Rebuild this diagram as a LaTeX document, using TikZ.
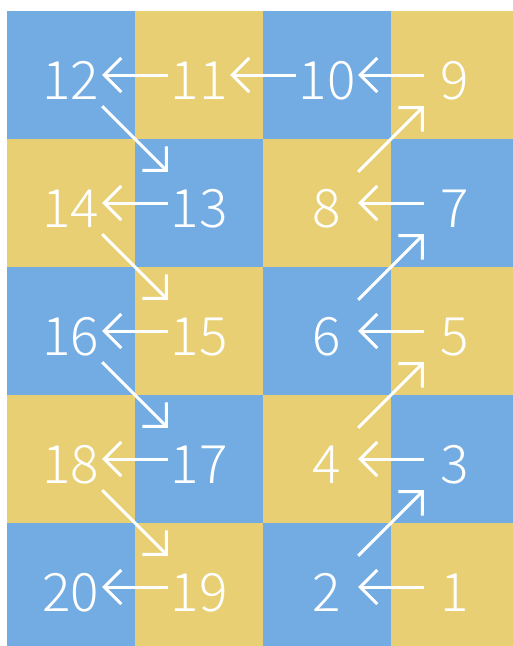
\documentclass[tikz,border=0pt]{standalone}
\usepackage{fontspec}
\setmainfont{Noto Sans CJK SC}[UprightFont={* Light}]
\usetikzlibrary{arrows.meta}
\definecolor{cellblue}{RGB}{114,172,226}
\definecolor{cellyellow}{RGB}{232,207,115}
\tikzstyle{num} = [rectangle, minimum width=62pt, minimum height=62pt, inner sep=0pt, text=white, font=\fontsize{53}{60}\selectfont, text height=48pt, text depth=0pt]
\tikzstyle{arrow} = [white, line width=3pt, -{Straight Barb[length=17pt,width=34pt]}]

\begin{document}
\begin{tikzpicture}[x=1pt, y=-1pt, node distance=128pt]

\useasboundingbox (0,0) rectangle (513,646);
\clip (0,0) rectangle (513,646);

% checkerboard
\foreach \i in {0,...,3}
  \foreach \j in {0,...,4} {
    \pgfmathparse{int(mod(\i+\j,2))}
    \ifnum\pgfmathresult=0
      \fill[cellblue] (7+128*\i,11+128*\j) rectangle ++(128,128);
    \else
      \fill[cellyellow] (7+128*\i,11+128*\j) rectangle ++(128,128);
    \fi
  }

% numbers
\node (n1) [num] at (455,587) {1};
\node (n2) [num, left of=n1] {2};
\node (n3) [num, above of=n1] {3};
\node (n4) [num, left of=n3] {4};
\node (n5) [num, above of=n3] {5};
\node (n6) [num, left of=n5] {6};
\node (n7) [num, above of=n5] {7};
\node (n8) [num, left of=n7] {8};
\node (n9) [num, above of=n7] {9};
\node (n10) [num, left of=n9] {10};
\node (n11) [num, left of=n10] {11};
\node (n12) [num, left of=n11] {12};
\node (n13) [num, below of=n11] {13};
\node (n14) [num, left of=n13] {14};
\node (n15) [num, below of=n13] {15};
\node (n16) [num, left of=n15] {16};
\node (n17) [num, below of=n15] {17};
\node (n18) [num, left of=n17] {18};
\node (n19) [num, below of=n17] {19};
\node (n20) [num, left of=n19] {20};

% path
\draw [arrow] (n1) -- (n2);
\draw [arrow] (n2) -- (n3);
\draw [arrow] (n3) -- (n4);
\draw [arrow] (n4) -- (n5);
\draw [arrow] (n5) -- (n6);
\draw [arrow] (n6) -- (n7);
\draw [arrow] (n7) -- (n8);
\draw [arrow] (n8) -- (n9);
\draw [arrow] (n9) -- (n10);
\draw [arrow] (n10) -- (n11);
\draw [arrow] (n11) -- (n12);
\draw [arrow] (n12) -- (n13);
\draw [arrow] (n13) -- (n14);
\draw [arrow] (n14) -- (n15);
\draw [arrow] (n15) -- (n16);
\draw [arrow] (n16) -- (n17);
\draw [arrow] (n17) -- (n18);
\draw [arrow] (n18) -- (n19);
\draw [arrow] (n19) -- (n20);

\end{tikzpicture}
\end{document}
